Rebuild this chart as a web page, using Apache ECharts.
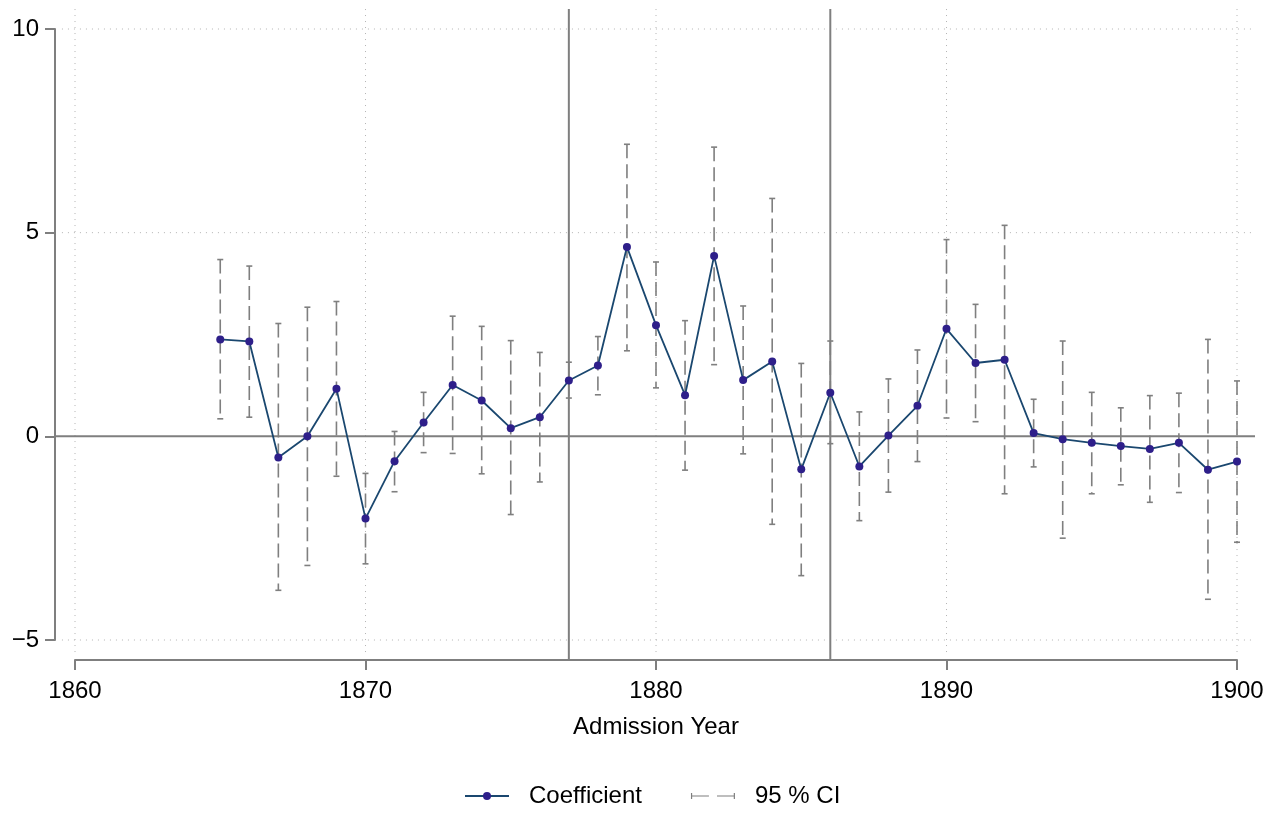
<!DOCTYPE html>
<html>
<head>
<meta charset="utf-8">
<script src="https://cdn.jsdelivr.net/npm/echarts@6/dist/echarts.min.js"></script>
<style>
  html, body { margin: 0; padding: 0; background: #fff; }
  #chart { width: 1282px; height: 813px; }
</style>
</head>
<body>
<div id="chart"></div>
<script>
// admission years and estimates
const years = [1865, 1866, 1867, 1868, 1869, 1870, 1871, 1872, 1873, 1874, 1875, 1876,
  1877, 1878, 1879, 1880, 1881, 1882, 1883, 1884, 1885, 1886, 1887, 1888,
  1889, 1890, 1891, 1892, 1893, 1894, 1895, 1896, 1897, 1898, 1899, 1900]
const coef = [2.38, 2.33, -0.52, 0.0, 1.17, -2.02, -0.61, 0.34, 1.26, 0.88, 0.20, 0.47,
  1.37, 1.74, 4.65, 2.73, 1.01, 4.43, 1.38, 1.84, -0.81, 1.07, -0.74, 0.02,
  0.75, 2.64, 1.80, 1.88, 0.08, -0.07, -0.16, -0.24, -0.31, -0.16, -0.82, -0.62]
const ciLow = [0.43, 0.47, -3.78, -3.17, -0.98, -3.13, -1.36, -0.40, -0.42, -0.92, -1.92, -1.12,
  0.94, 1.02, 2.10, 1.19, -0.83, 1.76, -0.43, -2.16, -3.42, -0.18, -2.07, -1.37,
  -0.62, 0.45, 0.36, -1.41, -0.75, -2.50, -1.41, -1.19, -1.62, -1.38, -4.00, -2.60]
const ciHigh = [4.34, 4.18, 2.77, 3.17, 3.31, -0.91, 0.12, 1.08, 2.95, 2.70, 2.35, 2.06,
  1.82, 2.45, 7.17, 4.28, 2.84, 7.10, 3.20, 5.84, 1.79, 2.34, 0.60, 1.41,
  2.12, 4.83, 3.24, 5.18, 0.91, 2.34, 1.08, 0.70, 1.00, 1.06, 2.38, 1.36]

// axis ticks and reference lines
const xTicks = [1860, 1870, 1880, 1890, 1900]
const yTicks = [-5, 0, 5, 10]
const refYears = [1877, 1886]
const refValues = [0]

// plot region beyond the tick range (Stata style)
const xLo = 1859.3
const xHi = 1900.62
const yLo = -5.49
const yHi = 10.49

const axisGrey = '#7f7f7f'
const font = 'Liberation Sans, Arial, Helvetica, sans-serif'

const chart = echarts.init(document.getElementById('chart'))

function vLines(values, y0, y1, style) {
  return {
    type: 'custom',
    silent: true,
    clip: false,
    data: values.map(v => [v]),
    renderItem(params, api) {
      const v = api.value(0)
      const a = api.coord([v, y0])
      const b = api.coord([v, y1])
      return { type: 'line', shape: { x1: a[0], y1: a[1], x2: b[0], y2: b[1] }, style: style }
    }
  }
}

function hLines(values, x0, x1, style) {
  return {
    type: 'custom',
    silent: true,
    clip: false,
    data: values.map(v => [xTicks[0], v]),
    renderItem(params, api) {
      const v = api.value(1)
      const a = api.coord([x0, v])
      const b = api.coord([x1, v])
      return { type: 'line', shape: { x1: a[0], y1: a[1], x2: b[0], y2: b[1] }, style: style }
    }
  }
}

const dotted = { stroke: '#b4b4b4', lineWidth: 1, lineDash: [1, 5] }
const refStyle = { stroke: axisGrey, lineWidth: 2 }

const ciIcon = 'path://M0,2H1.2V8H0Z M0,4.4H18V5.6H0Z M26,4.4H44V5.6H26Z M42.8,2H44V8H42.8Z'

chart.setOption({
  animation: false,
  backgroundColor: '#fff',
  textStyle: { fontFamily: font },
  grid: { left: 75, right: 45, top: 29, bottom: 173 },
  xAxis: {
    type: 'value',
    min: 1860,
    max: 1900,
    interval: 10,
    offset: 20,
    name: 'Admission Year',
    nameLocation: 'middle',
    nameGap: 55,
    nameTextStyle: { color: '#000', fontSize: 24, fontFamily: font },
    axisLine: { show: true, onZero: false, lineStyle: { color: axisGrey, width: 2 } },
    axisTick: { show: true, length: 10, lineStyle: { color: axisGrey, width: 2 } },
    axisLabel: { color: '#000', fontSize: 24, margin: 19, fontFamily: font, formatter: v => String(v) },
    splitLine: { show: false }
  },
  yAxis: {
    type: 'value',
    min: -5,
    max: 10,
    interval: 5,
    offset: 20,
    axisLine: { show: true, onZero: false, lineStyle: { color: axisGrey, width: 2 } },
    axisTick: { show: true, length: 10, lineStyle: { color: axisGrey, width: 2 } },
    axisLabel: {
      color: '#000',
      fontSize: 24,
      margin: 16,
      fontFamily: font,
      formatter: v => (v < 0 ? '\u2212' + Math.abs(v) : String(v))
    },
    splitLine: { show: false }
  },
  legend: {
    left: 464,
    top: 784,
    padding: 0,
    itemGap: 49,
    itemWidth: 44,
    itemHeight: 10,
    textStyle: { color: '#000', fontSize: 24, fontFamily: font, padding: [0, 0, 0, 15] },
    data: [
      { name: 'Coefficient' },
      { name: '95 % CI', icon: ciIcon, itemStyle: { color: axisGrey } }
    ]
  },
  series: [
    vLines(xTicks, yHi, yLo + 0.17, dotted),
    hLines(yTicks.filter(v => v !== 0), 1859.55, 1900.52, dotted),
    vLines(refYears, yHi, yLo, refStyle),
    hLines(refValues, xLo, xHi, refStyle),
    {
      name: '95 % CI',
      type: 'custom',
      data: years.map((y, i) => [y, ciLow[i], ciHigh[i]]),
      encode: { x: 0, y: [1, 2] },
      itemStyle: { color: axisGrey },
      renderItem(params, api) {
        const x = api.value(0)
        const lo = api.coord([x, api.value(1)])
        const hi = api.coord([x, api.value(2)])
        const cap = 3
        const s = { stroke: axisGrey, lineWidth: 1.6 }
        return {
          type: 'group',
          children: [
            { type: 'line', shape: { x1: hi[0], y1: hi[1], x2: lo[0], y2: lo[1] },
              style: { stroke: axisGrey, lineWidth: 1.6, lineDash: [14, 6] } },
            { type: 'line', shape: { x1: hi[0] - cap, y1: hi[1], x2: hi[0] + cap, y2: hi[1] }, style: s },
            { type: 'line', shape: { x1: lo[0] - cap, y1: lo[1], x2: lo[0] + cap, y2: lo[1] }, style: s }
          ]
        }
      }
    },
    {
      name: 'Coefficient',
      type: 'line',
      data: years.map((y, i) => [y, coef[i]]),
      symbol: 'circle',
      symbolSize: 8,
      lineStyle: { color: '#1a476f', width: 1.8 },
      itemStyle: { color: '#2e1f8a' },
      z: 5
    }
  ]
})
</script>
</body>
</html>
